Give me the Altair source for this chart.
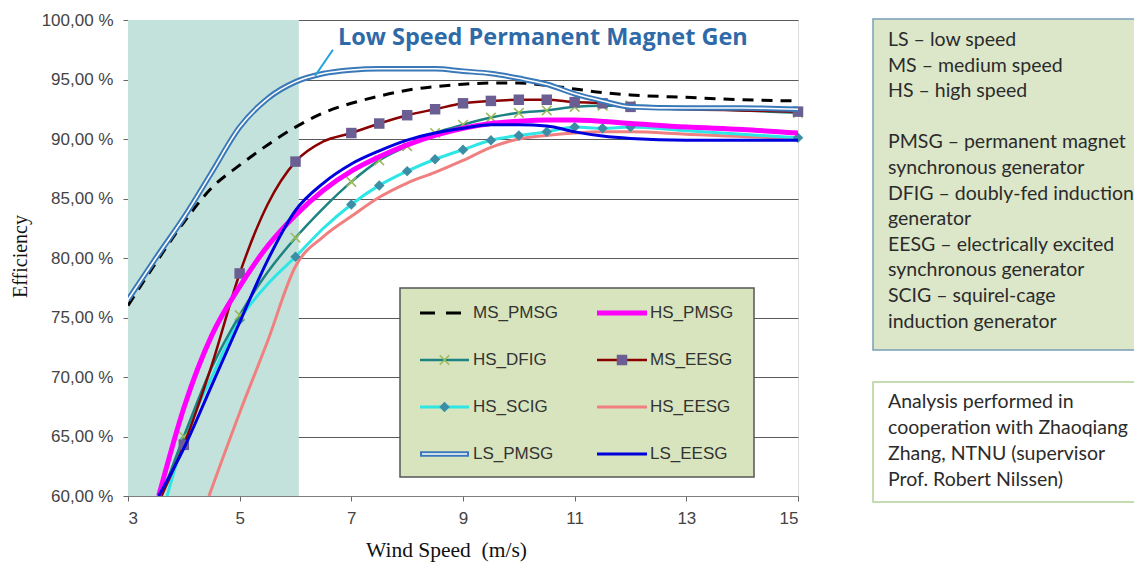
import altair as alt
import pandas as pd

# ---------------- data ----------------
LS_PMSG_X = [3, 3.5, 4, 4.5, 5, 5.5, 6, 6.5, 7, 7.5, 8, 8.5, 9, 9.5, 10, 10.5, 11, 11.5, 12, 13, 14, 15]
LS_PMSG_Y = [76.5, 80.0, 83.4, 87.2, 91.0, 93.4, 94.8, 95.5, 95.8, 95.9, 95.9, 95.9, 95.7, 95.5, 95.1, 94.6, 93.8, 93.2, 92.7, 92.6, 92.6, 92.5]

MS_PMSG_X = [3, 3.5, 4, 4.5, 5, 5.5, 6, 6.5, 7, 7.5, 8, 8.5, 9, 9.5, 10, 10.5, 11, 11.5, 12, 13, 14, 15]
MS_PMSG_Y = [76.0, 79.6, 83.0, 85.9, 87.8, 89.5, 91.0, 92.2, 93.0, 93.6, 94.1, 94.4, 94.6, 94.7, 94.7, 94.5, 94.2, 93.9, 93.7, 93.5, 93.3, 93.2]

MS_EESG_X = [3.6, 4, 4.5, 5, 5.5, 6, 6.5, 7, 7.5, 8, 8.5, 9, 9.5, 10, 10.5, 11, 11.5, 12, 13, 14, 15]
MS_EESG_Y = [60.0, 64.3, 71.0, 78.7, 84.5, 88.1, 89.8, 90.5, 91.3, 92.0, 92.5, 93.0, 93.2, 93.3, 93.3, 93.1, 93.0, 92.7, 92.5, 92.4, 92.3]

HS_PMSG_X = [3.55, 4, 4.5, 5, 5.5, 6, 6.5, 7, 7.5, 8, 8.5, 9, 9.5, 10, 10.5, 11, 12, 13, 14, 15]
HS_PMSG_Y = [60.0, 67.4, 73.5, 77.6, 81.0, 83.6, 85.7, 87.3, 88.5, 89.5, 90.3, 90.9, 91.3, 91.5, 91.6, 91.6, 91.3, 91.0, 90.8, 90.5]

LS_EESG_X = [3.55, 4, 4.5, 5, 5.5, 6, 6.5, 7, 7.5, 8, 8.5, 9, 9.5, 10, 10.5, 11, 11.5, 12, 13, 14, 15]
LS_EESG_Y = [60.0, 64.0, 69.3, 74.6, 79.8, 84.0, 86.3, 87.9, 89.0, 89.9, 90.5, 90.9, 91.2, 91.2, 91.1, 90.6, 90.25, 90.05, 89.9, 89.9, 89.9]

HS_DFIG_X = [3.6, 4, 4.5, 5, 5.5, 6, 6.5, 7, 7.5, 8, 8.5, 9, 9.5, 10, 10.5, 11, 11.5, 12, 13, 14, 15]
HS_DFIG_Y = [60.0, 65.0, 70.8, 75.2, 78.8, 81.7, 84.2, 86.4, 88.2, 89.4, 90.5, 91.2, 91.8, 92.2, 92.4, 92.7, 92.8, 92.8, 92.6, 92.4, 92.2]

HS_SCIG_X = [3.7, 4, 4.5, 5, 5.5, 6, 6.5, 7, 7.5, 8, 8.5, 9, 9.5, 10, 10.5, 11, 11.5, 12, 13, 14, 15]
HS_SCIG_Y = [60.0, 64.7, 70.0, 74.8, 77.8, 80.1, 82.5, 84.5, 86.1, 87.3, 88.3, 89.1, 89.9, 90.3, 90.6, 91.0, 90.9, 91.0, 90.7, 90.4, 90.1]

HS_EESG_X = [4.45, 5, 5.5, 6, 6.5, 7, 7.5, 8, 8.5, 9, 9.5, 10, 10.5, 11, 11.5, 12, 13, 14, 15]
HS_EESG_Y = [60.0, 67.0, 73.0, 79.3, 81.8, 83.5, 85.1, 86.3, 87.2, 88.2, 89.3, 90.0, 90.3, 90.5, 90.6, 90.6, 90.4, 90.2, 90.1]

MARKER_X = [4, 5, 6, 7, 7.5, 8, 8.5, 9, 9.5, 10, 10.5, 11, 11.5, 12, 15]

LEGEND_ORDER = ["MS_PMSG", "HS_PMSG", "HS_DFIG", "MS_EESG",
                "HS_SCIG", "HS_EESG", "LS_PMSG", "LS_EESG"]

Y_TICKS = [60, 65, 70, 75, 80, 85, 90, 95, 100]
X_TICKS = [3, 5, 7, 9, 11, 13, 15]
SHADE_X = [3, 6.06]

ANNOT_TEXT = "Low Speed Permanent Magnet Gen"

BOX1_LINES_A = ["LS \u2013 low speed", "MS \u2013 medium speed", "HS \u2013 high speed"]
BOX1_LINES_B = ["PMSG \u2013 permanent magnet", "synchronous generator",
                "DFIG \u2013 doubly-fed induction", "generator",
                "EESG \u2013 electrically excited", "synchronous generator",
                "SCIG \u2013 squirel-cage", "induction generator"]
BOX2_LINES = ["Analysis performed in", "cooperation with Zhaoqiang",
              "Zhang, NTNU (supervisor", "Prof. Robert Nilssen)"]

SERIES = {
    "LS_PMSG": (LS_PMSG_X, LS_PMSG_Y),
    "MS_PMSG": (MS_PMSG_X, MS_PMSG_Y),
    "MS_EESG": (MS_EESG_X, MS_EESG_Y),
    "HS_PMSG": (HS_PMSG_X, HS_PMSG_Y),
    "LS_EESG": (LS_EESG_X, LS_EESG_Y),
    "HS_DFIG": (HS_DFIG_X, HS_DFIG_Y),
    "HS_SCIG": (HS_SCIG_X, HS_SCIG_Y),
    "HS_EESG": (HS_EESG_X, HS_EESG_Y),
}

X_MARK_PATH = "M-1,-1L1,1M1,-1L-1,1"

STYLE = {
    "MS_PMSG": dict(color="#000000", width=3, dash=[11, 8]),
    "HS_PMSG": dict(color="#ff00ff", width=5),
    "HS_DFIG": dict(color="#1c8282", width=2.5,
                    marker=dict(shape=X_MARK_PATH, filled=False, color="#9bbb59", size=90, strokeWidth=1.6)),
    "MS_EESG": dict(color="#8b0000", width=2.5,
                    marker=dict(shape="square", filled=True, color="#6b5e92", size=110)),
    "HS_SCIG": dict(color="#2ee6e6", width=3,
                    marker=dict(shape="diamond", filled=True, color="#3b8ea5", size=110)),
    "HS_EESG": dict(color="#f08080", width=3),
    "LS_PMSG": dict(color="#3a79b9", width=5.5, inner="#ffffff"),
    "LS_EESG": dict(color="#0000dd", width=3),
}

DRAW_ORDER = ["HS_EESG", "HS_SCIG", "HS_DFIG", "MS_EESG", "HS_PMSG", "LS_EESG", "MS_PMSG", "LS_PMSG"]

# ---------------- build ----------------
W, H = 670, 476
xs = alt.Scale(domain=[3, 15], nice=False, zero=False)
ys = alt.Scale(domain=[60, 100], nice=False, zero=False)

rows = []
for name, (sx, sy) in SERIES.items():
    for a, b in zip(sx, sy):
        rows.append({"series": name, "ws": a, "eff": b})
df = pd.DataFrame(rows)

X = alt.X("ws:Q", scale=xs,
          axis=alt.Axis(values=X_TICKS, format="d", title="Wind Speed\u00a0\u00a0(m/s)", grid=False,
                        tickSize=5, tickColor="#666", domainColor="#7f7f7f",
                        labelFont="Liberation Sans", labelFontSize=17, labelColor="#444",
                        labelPadding=9, titleFont="Liberation Serif", titleFontSize=21.5,
                        titleFontWeight="normal", titleColor="#111",
                        titleX=318, titleY=60, titleBaseline="alphabetic"))
Y = alt.Y("eff:Q", scale=ys,
          axis=alt.Axis(values=Y_TICKS, title="Efficiency",
                        labelExpr="replace(format(datum.value, '.2f'), '.', ',') + ' %'",
                        grid=True, gridColor="#5a5a5a", gridWidth=1,
                        tickSize=5, tickColor="#666", domainColor="#7f7f7f",
                        labelFont="Liberation Sans", labelFontSize=17, labelColor="#444",
                        labelPadding=10, titleFont="Liberation Serif", titleFontSize=20,
                        titleFontWeight="normal", titleColor="#111",
                        titleX=-108, titleY=236, titleBaseline="middle"))

base = alt.Chart(df)

shade = alt.Chart(pd.DataFrame({"x0": [SHADE_X[0]], "x1": [SHADE_X[1]],
                                "y0": [Y_TICKS[0]], "y1": [Y_TICKS[-1]]})).mark_rect(
    color="#c4e2dc").encode(x=alt.X("x0:Q", scale=xs), x2="x1:Q",
                             y=alt.Y("y0:Q", scale=ys), y2="y1:Q")

layers = [shade, base.mark_line(opacity=0).encode(x=X, y=Y)]


def point_kw(m):
    pk = dict(shape=m["shape"], filled=m["filled"], size=m["size"], opacity=1)
    if m["filled"]:
        pk["fill"] = m["color"]
        pk["strokeWidth"] = 0
    else:
        pk["stroke"] = m["color"]
        pk["strokeWidth"] = m.get("strokeWidth", 1.5)
    return pk


for name in DRAW_ORDER:
    st = STYLE[name]
    src = base.transform_filter(alt.datum.series == name)
    kw = dict(color=st["color"], strokeWidth=st["width"], interpolate="monotone", clip=True)
    if "dash" in st:
        kw["strokeDash"] = st["dash"]
    layers.append(src.mark_line(**kw).encode(x=alt.X("ws:Q", scale=xs), y=alt.Y("eff:Q", scale=ys)))
    if "inner" in st:
        layers.append(src.mark_line(color=st["inner"], strokeWidth=1.6, interpolate="monotone", clip=True)
                      .encode(x=alt.X("ws:Q", scale=xs), y=alt.Y("eff:Q", scale=ys)))
    if "marker" in st:
        layers.append(src.transform_filter(alt.FieldOneOfPredicate(field="ws", oneOf=MARKER_X))
                      .mark_point(**point_kw(st["marker"]))
                      .encode(x=alt.X("ws:Q", scale=xs), y=alt.Y("eff:Q", scale=ys)))

# annotation (data coordinates)
ann_df = pd.DataFrame({"x0": [6.35], "y0": [95.3], "x1": [6.67], "y1": [97.5],
                       "tx": [6.76], "ty": [98.5], "t": [ANNOT_TEXT]})
ann = alt.Chart(ann_df)
layers.append(ann.mark_rule(color="#27a2db", strokeWidth=2).encode(
    x=alt.X("x0:Q", scale=xs), y=alt.Y("y0:Q", scale=ys), x2="x1:Q", y2="y1:Q"))
layers.append(ann.mark_text(align="left", baseline="middle", font="Open Sans", fontSize=23.5,
                            fontWeight="bold", color="#2f6aa8").encode(
    x=alt.X("tx:Q", scale=xs), y=alt.Y("ty:Q", scale=ys), text="t:N"))

# ---------------- legend (manual, pixel layout) ----------------
one = alt.Chart(pd.DataFrame({"k": [0]}))
LB = dict(x0=272, x1=626, y0=268, y1=457)
layers.append(one.mark_rect(fill="#d7e4bd", stroke="#555555", strokeWidth=1.5).encode(
    x=alt.value(LB["x0"]), x2=alt.value(LB["x1"]), y=alt.value(LB["y0"]), y2=alt.value(LB["y1"])))
ROW0, ROWSTEP = 293, 47
COLS = [(292, 341, 345), (469, 519, 522)]
for i, name in enumerate(LEGEND_ORDER):
    st = STYLE[name]
    c0, c1, tx = COLS[i % 2]
    yy = ROW0 + ROWSTEP * (i // 2)
    rk = dict(color=st["color"], strokeWidth=st["width"])
    if "dash" in st:
        rk["strokeDash"] = [15, 11]
        c1 = c0 + 41
    layers.append(one.mark_rule(**rk).encode(x=alt.value(c0), x2=alt.value(c1), y=alt.value(yy)))
    if "inner" in st:
        layers.append(one.mark_rule(color=st["inner"], strokeWidth=1.6).encode(
            x=alt.value(c0 + 2), x2=alt.value(c1 - 2), y=alt.value(yy)))
    if "marker" in st:
        layers.append(one.mark_point(**point_kw(st["marker"])).encode(
            x=alt.value((c0 + c1) / 2), y=alt.value(yy)))
    layers.append(one.mark_text(align="left", baseline="middle", font="Liberation Sans",
                                fontSize=17, color="#333333").encode(
        x=alt.value(tx), y=alt.value(yy), text=alt.value(name)))

# ---------------- right-hand text boxes ----------------
LH1 = 25.6
layers.append(one.mark_rect(fill="#dce6c9", stroke="#7aa0b8", strokeWidth=1.5).encode(
    x=alt.value(745), x2=alt.value(1030), y=alt.value(-1), y2=alt.value(330)))
layers.append(one.mark_text(align="left", baseline="top", font="Lato", fontSize=19.5,
                            lineHeight=LH1, color="#2b2b2b").encode(
    x=alt.value(760), y=alt.value(11), text=alt.value(BOX1_LINES_A)))
layers.append(one.mark_text(align="left", baseline="top", font="Lato", fontSize=19.5,
                            lineHeight=LH1, color="#2b2b2b").encode(
    x=alt.value(760), y=alt.value(11 + 4 * LH1), text=alt.value(BOX1_LINES_B)))
layers.append(one.mark_rect(fill="#ffffff", stroke="#b3d197", strokeWidth=1.5).encode(
    x=alt.value(745), x2=alt.value(1030), y=alt.value(362), y2=alt.value(482)))
layers.append(one.mark_text(align="left", baseline="top", font="Lato", fontSize=19.5,
                            lineHeight=26, color="#2b2b2b").encode(
    x=alt.value(760), y=alt.value(373), text=alt.value(BOX2_LINES)))

chart = alt.layer(*layers).properties(
    width=W, height=H,
    padding={"left": 120, "top": 12, "right": 336, "bottom": 68},
    autosize=alt.AutoSizeParams(type="none"),
).configure_view(stroke="#7f7f7f", strokeWidth=1).configure(background="#ffffff")

chart.save("out.html", embed_options={"renderer": "svg", "actions": False})
